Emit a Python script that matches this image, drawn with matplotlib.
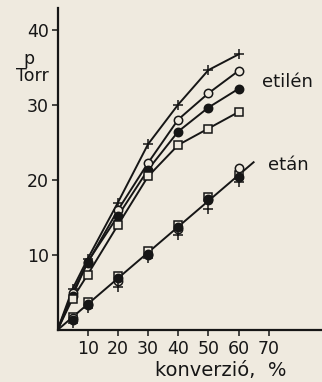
import matplotlib
matplotlib.use("Agg")
import matplotlib.pyplot as plt

# ---- data ----
conv = [5, 10, 20, 30, 40, 50, 60]

# etilén series (four sets)
etilen_plus = [5.5, 9.5, 17.0, 24.8, 30.1, 34.7, 36.8]
etilen_open = [5.0, 9.0, 16.0, 22.3, 28.1, 31.6, 34.6]
etilen_fill = [4.6, 9.1, 15.2, 21.4, 26.5, 29.7, 32.2]
etilen_sq = [4.2, 7.4, 14.0, 20.5, 24.7, 26.9, 29.1]

# etán series (four sets)
etan_sq = [1.8, 3.8, 7.2, 10.5, 14.0, 17.8, 20.7]
etan_open = [1.6, 3.3, 6.5, 10.0, 13.5, 17.3, 21.6]
etan_fill = [1.3, 3.5, 7.0, 10.2, 13.7, 17.5, 20.4]
etan_plus = [1.0, 3.0, 5.8, 9.6, 12.7, 16.2, 19.7]
etan_line_x = [0, 65]
etan_line_y = [0, 22.4]

xticks = [10, 20, 30, 40, 50, 60, 70]
yticks = [10, 20, 30, 40]

BG = "#efeadf"
INK = "#161616"
W, H = 322, 382

plt.rcParams["font.family"] = ["DejaVu Sans"]
fig = plt.figure(figsize=(W / 100, H / 100), dpi=100, facecolor=BG)

x0, y0 = 57.5, 330.0
xs, ys = 3.017, 7.49
ax = fig.add_axes([x0 / W, (H - y0) / H, (W - x0) / W, (y0 - 8) / H])
ax.set_facecolor(BG)
ax.set_xlim(0, (W - x0) / xs)
ax.set_ylim(0, (y0 - 8) / ys)

for s in ["top", "right"]:
    ax.spines[s].set_visible(False)
for s in ["left", "bottom"]:
    ax.spines[s].set_linewidth(1.6)
    ax.spines[s].set_color(INK)

ax.set_xticks(xticks)
ax.set_yticks(yticks)
ax.tick_params(axis="both", colors=INK, labelsize=12.5, width=1.1)
ax.tick_params(axis="x", direction="out", length=4, pad=3)
ax.tick_params(axis="y", direction="out", length=4.5, pad=1.5)

lw = 1.4
ms = 6
mew = 1.1

def curve(vals, marker, filled):
    ax.plot([0] + conv, [0] + vals, color=INK, lw=lw, zorder=2)
    ax.plot(conv, vals, ls="none", marker=marker, ms=ms if marker != "+" else 7,
            mew=mew, mec=INK, mfc=INK if filled else BG, zorder=3)

curve(etilen_plus, "+", False)
curve(etilen_open, "o", False)
curve(etilen_fill, "o", True)
curve(etilen_sq, "s", False)

ax.plot(etan_line_x, etan_line_y, color=INK, lw=lw, zorder=2)
for vals, m, f in [(etan_sq, "s", False), (etan_open, "o", False),
                   (etan_fill, "o", True), (etan_plus, "+", False)]:
    ax.plot(conv, vals, ls="none", marker=m, ms=ms if m != "+" else 7,
            mew=mew, mec=INK, mfc=INK if f else BG, zorder=3)

def ftext(px, py, s, fs=12.5, **kw):
    fig.text(px / W, 1 - py / H, s, color=INK, fontsize=fs, **kw)

ftext(29, 59, "p", ha="center", va="center")
ftext(32, 76, "Torr", ha="center", va="center")
ftext(287, 82, "etilén", fs=13, ha="center", va="center")
ftext(288, 165, "etán", fs=13, ha="center", va="center")
ftext(155, 371, "konverzió,  %", fs=14, ha="left", va="center")

fig.savefig("out.png", dpi=100, facecolor=BG)
